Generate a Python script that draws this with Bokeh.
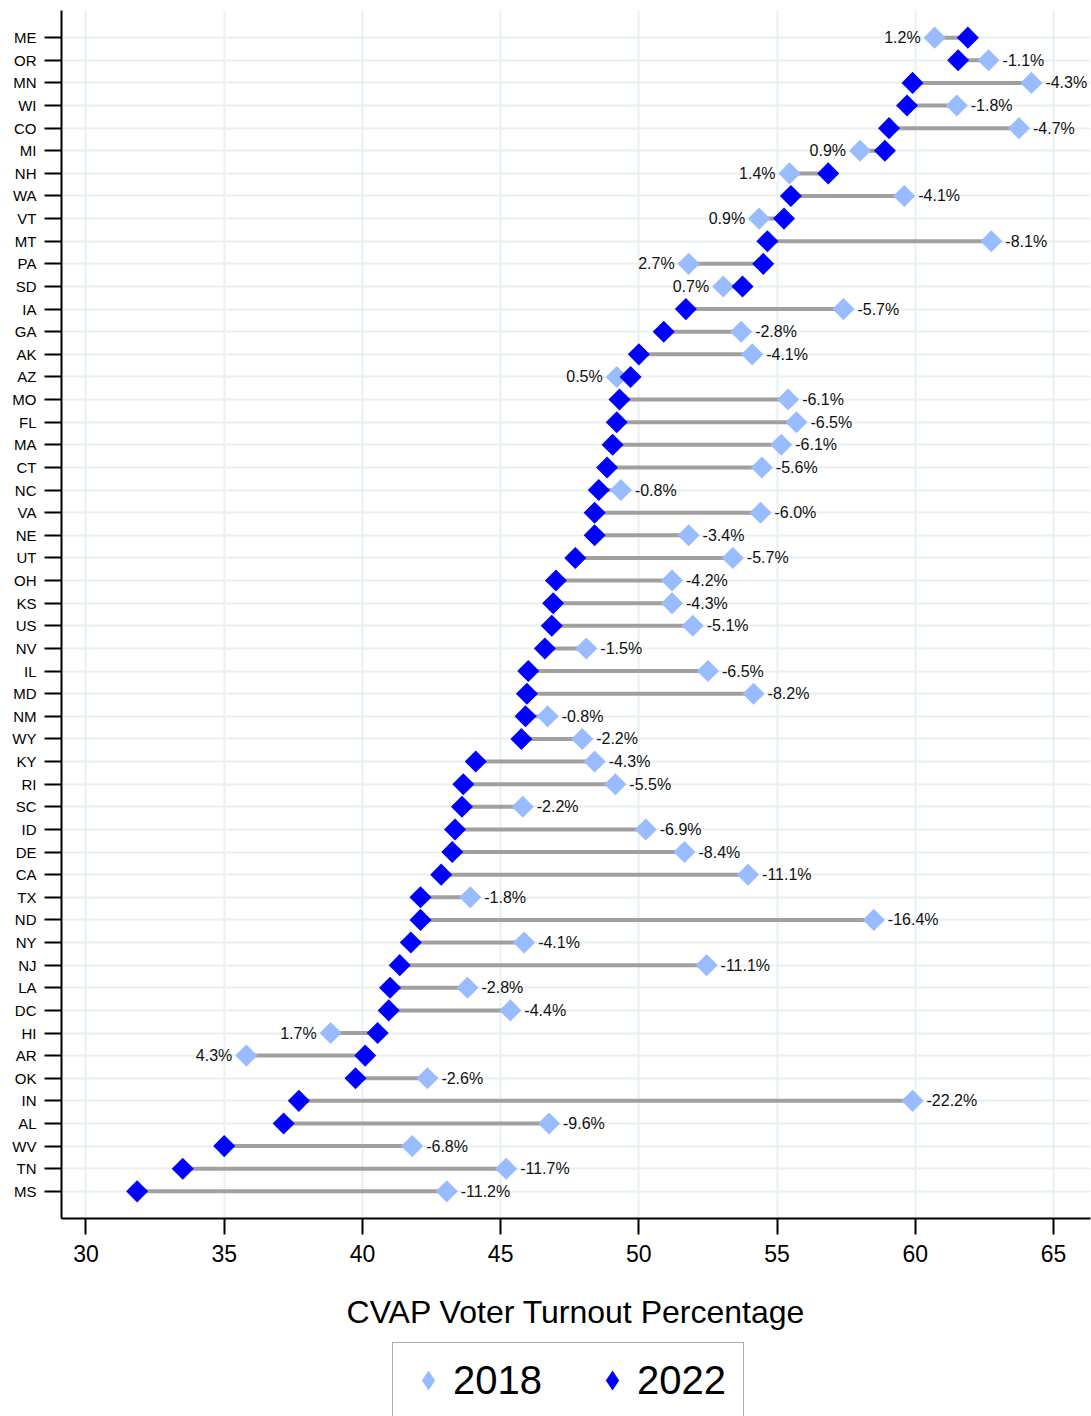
import math
from bokeh.plotting import figure
from bokeh.layouts import column
from bokeh.models import (ColumnDataSource, FactorRange, Range1d, FixedTicker,
                          Legend, LegendItem, LabelSet)
from bokeh.core.properties import value
from bokeh.embed import file_html
from bokeh.resources import INLINE

states = ["ME", "OR", "MN", "WI", "CO", "MI", "NH", "WA", "VT", "MT", "PA", "SD",
          "IA", "GA", "AK", "AZ", "MO", "FL", "MA", "CT", "NC", "VA", "NE", "UT",
          "OH", "KS", "US", "NV", "IL", "MD", "NM", "WY", "KY", "RI", "SC", "ID",
          "DE", "CA", "TX", "ND", "NY", "NJ", "LA", "DC", "HI", "AR", "OK", "IN",
          "AL", "WV", "TN", "MS"]
turnout_2018 = [60.7, 62.65, 64.2, 61.5, 63.75, 58.0, 55.45, 59.6, 54.35, 62.75, 51.8, 53.05,
                57.4, 53.7, 54.1, 49.2, 55.4, 55.7, 55.15, 54.45, 49.35, 54.4, 51.8, 53.4,
                51.2, 51.2, 51.95, 48.1, 52.5, 54.15, 46.7, 47.95, 48.4, 49.15, 45.8, 50.25,
                51.65, 53.95, 43.9, 58.5, 45.85, 52.45, 43.8, 45.35, 38.85, 35.8, 42.35, 59.9,
                46.75, 41.8, 45.2, 43.05]
turnout_2022 = [61.9, 61.55, 59.9, 59.7, 59.05, 58.9, 56.85, 55.5, 55.25, 54.65, 54.5, 53.75,
                51.7, 50.9, 50.0, 49.7, 49.3, 49.2, 49.05, 48.85, 48.55, 48.4, 48.4, 47.7,
                47.0, 46.9, 46.85, 46.6, 46.0, 45.95, 45.9, 45.75, 44.1, 43.65, 43.6, 43.35,
                43.25, 42.85, 42.1, 42.1, 41.75, 41.35, 41.0, 40.95, 40.55, 40.1, 39.75, 37.7,
                37.15, 35.0, 33.5, 31.85]
change = [1.2, -1.1, -4.3, -1.8, -4.7, 0.9, 1.4, -4.1, 0.9, -8.1, 2.7, 0.7,
          -5.7, -2.8, -4.1, 0.5, -6.1, -6.5, -6.1, -5.6, -0.8, -6.0, -3.4, -5.7,
          -4.2, -4.3, -5.1, -1.5, -6.5, -8.2, -0.8, -2.2, -4.3, -5.5, -2.2, -6.9,
          -8.4, -11.1, -1.8, -16.4, -4.1, -11.1, -2.8, -4.4, 1.7, 4.3, -2.6, -22.2,
          -9.6, -6.8, -11.7, -11.2]
x_ticks = [30, 35, 40, 45, 50, 55, 60, 65]
series_labels = ["2018", "2022"]

FONT = "Liberation Sans"
LIGHT = "#99bbff"
DARK = "#0000ff"

src = ColumnDataSource(data=dict(state=states, v18=turnout_2018, v22=turnout_2022))

pos_idx = [i for i, c in enumerate(change) if c > 0]
neg_idx = [i for i, c in enumerate(change) if c <= 0]
src_pos = ColumnDataSource(data=dict(
    state=[states[i] for i in pos_idx],
    x=[turnout_2018[i] for i in pos_idx],
    label=[f"{change[i]:.1f}%" for i in pos_idx]))
src_neg = ColumnDataSource(data=dict(
    state=[states[i] for i in neg_idx],
    x=[turnout_2018[i] for i in neg_idx],
    label=[f"{change[i]:.1f}%" for i in neg_idx]))

# ---------------- main chart ----------------
p = figure(width=1091, height=1340, output_backend="svg", toolbar_location=None,
           y_range=FactorRange(factors=states[::-1], range_padding=0.7,
                               range_padding_units="absolute"),
           x_range=Range1d(29.114, 66.338),
           min_border_left=61, min_border_right=1, min_border_top=10,
           min_border_bottom=122)
p.outline_line_color = None
p.background_fill_color = "white"

p.segment(x0="v18", y0="state", x1="v22", y1="state", source=src,
          line_color="#a0a0a0", line_width=4)
p.scatter(x="v18", y="state", source=src, marker="square", angle=math.pi / 4,
          size=15.6, fill_color=LIGHT, line_color=None)
p.scatter(x="v22", y="state", source=src, marker="square", angle=math.pi / 4,
          size=15.6, fill_color=DARK, line_color=None)

p.add_layout(LabelSet(x="x", y="state", text="label", source=src_pos, x_offset=-14,
                      text_align="right", text_baseline="middle",
                      text_font=value(FONT), text_font_size="16px",
                      text_color="#111111"))
p.add_layout(LabelSet(x="x", y="state", text="label", source=src_neg, x_offset=14,
                      text_align="left", text_baseline="middle",
                      text_font=value(FONT), text_font_size="16px",
                      text_color="#111111"))

for ax in (p.xaxis[0], p.yaxis[0]):
    ax.axis_line_width = 2
    ax.axis_line_color = "black"
    ax.major_tick_line_width = 2
    ax.major_tick_line_color = "black"
    ax.major_tick_in = 0
    ax.minor_tick_line_color = None
    ax.major_label_text_font = FONT
    ax.major_label_text_color = "black"

p.xaxis.ticker = FixedTicker(ticks=x_ticks)
p.xaxis.major_tick_out = 16
p.xaxis.major_label_text_font_size = "23px"
p.xaxis.major_label_standoff = 10
p.xaxis.axis_label = "CVAP Voter Turnout Percentage"
p.xaxis.axis_label_text_font = FONT
p.xaxis.axis_label_text_font_size = "32px"
p.xaxis.axis_label_text_font_style = "normal"
p.xaxis.axis_label_text_color = "black"
p.xaxis.axis_label_standoff = 29

p.yaxis.major_tick_out = 17
p.yaxis.major_label_text_font_size = "15px"
p.yaxis.major_label_standoff = 8

p.xgrid.ticker = FixedTicker(ticks=x_ticks)
p.xgrid.grid_line_color = "#e8f0f2"
p.xgrid.grid_line_width = 2
p.ygrid.grid_line_color = "#e8f0f2"
p.ygrid.grid_line_width = 2

# ---------------- legend strip ----------------
# the legend strip's ranges lie outside the data, so its glyphs only appear as
# legend swatches
q = figure(width=1091, height=76, output_backend="svg", toolbar_location=None,
           x_range=Range1d(0, 1), y_range=Range1d(0, 1), min_border=0)
q.axis.visible = False
q.grid.visible = False
q.outline_line_color = None
r18 = q.scatter(x="v18", y="v22", source=src, marker="diamond",
                fill_color=LIGHT, line_color=None)
r22 = q.scatter(x="v18", y="v22", source=src, marker="diamond",
                fill_color=DARK, line_color=None)
legend = Legend(items=[LegendItem(label=series_labels[0], renderers=[r18]),
                       LegendItem(label=series_labels[1], renderers=[r22])],
                location=(331, -2), orientation="horizontal",
                glyph_width=50, glyph_height=54, padding=10, spacing=38,
                label_standoff=0, label_width=96,
                label_text_font=FONT, label_text_font_size="40px",
                label_text_color="black", border_line_color="#555555",
                border_line_width=1, background_fill_color="white",
                background_fill_alpha=1.0)
q.add_layout(legend, "center")

layout = column(p, q, spacing=0)
open("out.html", "w").write(file_html(layout, INLINE))
